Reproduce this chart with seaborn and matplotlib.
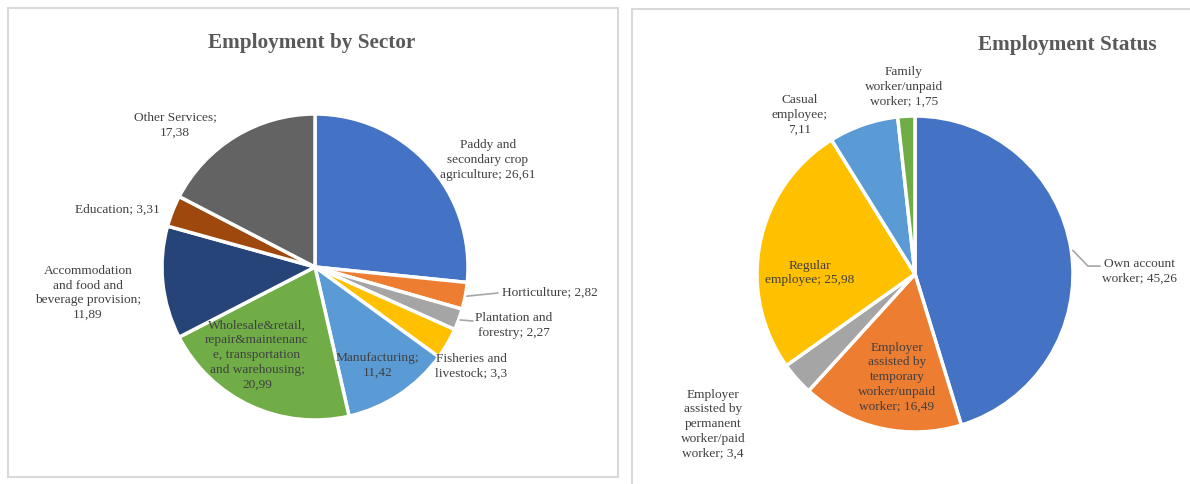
import numpy as np
import seaborn as sns
import matplotlib.pyplot as plt
from matplotlib.patches import Rectangle

# data
sector_labels = ["Paddy and\nsecondary crop\nagriculture; 26,61", "Horticulture; 2,82",
                 "Plantation and\nforestry; 2,27", "Fisheries and\nlivestock; 3,3",
                 "Manufacturing;\n11,42", "Wholesale&retail,\nrepair&maintenanc\ne, transportation\nand warehousing;\n20,99",
                 "Accommodation\nand food and\nbeverage provision;\n11,89", "Education; 3,31",
                 "Other Services;\n17,38"]
sector_values = [26.61, 2.82, 2.27, 3.3, 11.42, 20.99, 11.89, 3.31, 17.38]
sector_colors = ["#4472C4", "#ED7D31", "#A5A5A5", "#FFC000", "#5B9BD5",
                 "#70AD47", "#264478", "#9E480E", "#636363"]

status_labels = ["Own account\nworker; 45,26",
                 "Employer\nassisted by\ntemporary\nworker/unpaid\nworker; 16,49",
                 "Employer\nassisted by\npermanent\nworker/paid\nworker; 3,4",
                 "Regular\nemployee; 25,98", "Casual\nemployee;\n7,11",
                 "Family\nworker/unpaid\nworker; 1,75"]
status_values = [45.26, 16.49, 3.4, 25.98, 7.11, 1.75]
status_colors = ["#4472C4", "#ED7D31", "#A5A5A5", "#FFC000", "#5B9BD5", "#70AD47"]

# label placement (pie radius units) and alignment
sector_pos = [(1.13, 0.706, "center"), (1.222, -0.163, "left"), (1.30, -0.376, "center"),
              (1.02, -0.64, "center"), (0.41, -0.634, "center"), (-0.379, -0.569, "center"),
              (-1.484, -0.163, "center"), (-1.294, 0.379, "center"), (-0.915, 0.935, "center")]
# leader lines: index -> points after the wedge edge
sector_leaders = {1: [(1.196, -0.17)], 2: [(1.033, -0.353)]}

status_pos = [(1.424, 0.025, "center"), (-0.114, -0.646, "center"), (-1.278, -0.943, "center"),
              (-0.665, 0.013, "center"), (-0.728, 1.013, "center"), (-0.07, 1.19, "center")]
status_leaders = {0: [(1.095, 0.05), (1.171, 0.05)]}

sns.set_theme(style="white")
plt.rcParams["font.family"] = ["Liberation Serif", "DejaVu Serif"]

W, H = 1190, 485
fig = plt.figure(figsize=(W / 100, H / 100), dpi=100)

# panel borders
fig.add_artist(Rectangle((8 / W, 7 / H), 610 / W, 469 / H, transform=fig.transFigure,
                         fill=False, ec="#d9d9d9", lw=1.5))
fig.add_artist(Rectangle((632 / W, -0.05), 0.6, (H - 10) / H + 0.05, transform=fig.transFigure,
                         fill=False, ec="#d9d9d9", lw=1.5))


def draw_pie(cx, cy, r, values, colors, labels, pos, leaders, title, tx, ty):
    ax = fig.add_axes([(cx - r) / W, (H - cy - r) / H, 2 * r / W, 2 * r / H])
    wedges, _ = ax.pie(values, colors=colors, startangle=90, counterclock=False,
                       wedgeprops=dict(edgecolor="white", linewidth=2.5))
    ax.set_xlim(-1, 1)
    ax.set_ylim(-1, 1)
    ax.axis("off")
    for i, (lab, (x, y, ha)) in enumerate(zip(labels, pos)):
        ax.text(x, y, lab, ha=ha, va="center", fontsize=9.6, color="#404040",
                multialignment="center", linespacing=1.3)
        if i in leaders:
            w = wedges[i]
            mid = np.deg2rad((w.theta1 + w.theta2) / 2)
            pts = [(np.cos(mid) * 1.01, np.sin(mid) * 1.01)] + leaders[i]
            xs, ys = zip(*pts)
            ax.plot(xs, ys, color="#a6a6a6", lw=1.2, clip_on=False)
    fig.text(tx / W, 1 - ty / H, title, ha="center", va="center", fontsize=15.3,
             fontweight="bold", color="#595959")


draw_pie(315, 268, 153, sector_values, sector_colors, sector_labels, sector_pos,
         sector_leaders, "Employment by Sector", 312, 43)
draw_pie(915, 275, 158, status_values, status_colors, status_labels, status_pos,
         status_leaders, "Employment Status", 1067, 45)

fig.savefig("out.png", dpi=100)
